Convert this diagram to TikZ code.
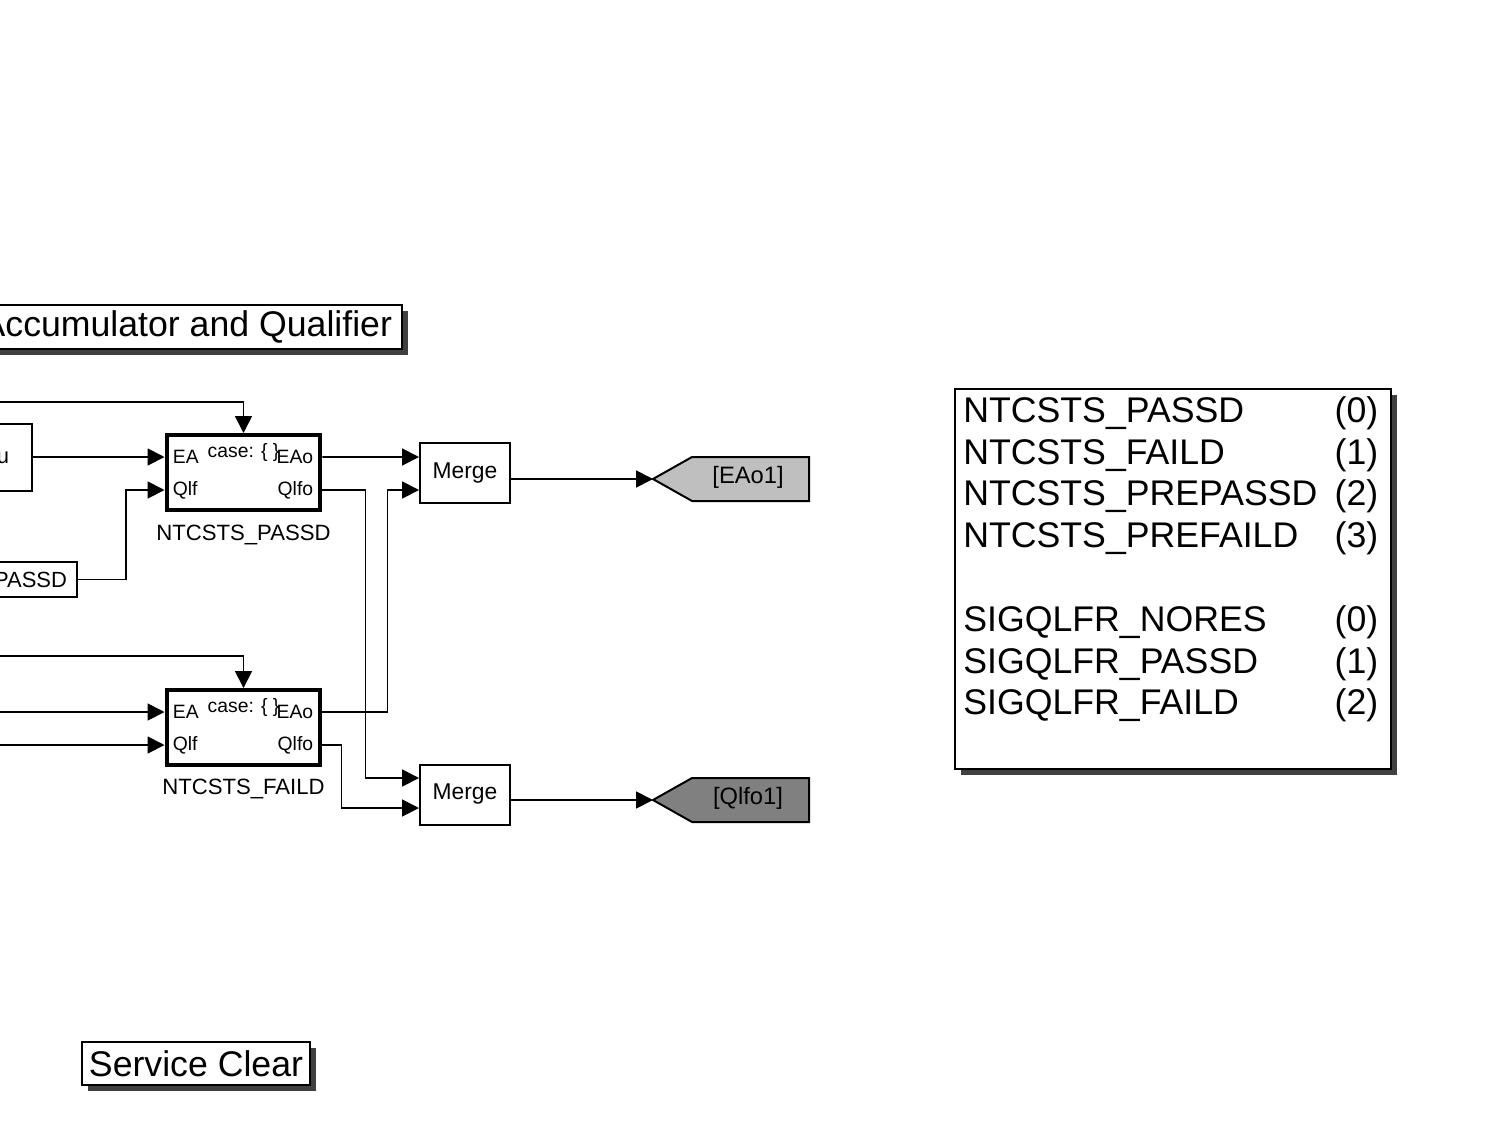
\documentclass[tikz,border=0pt]{standalone}
\usepackage{fontspec}
\setmainfont{Liberation Sans}
\usetikzlibrary{arrows.meta,positioning,shadows}
\begin{document}
\begin{tikzpicture}[x=0.02cm,y=-0.02cm]
	\tikzstyle{sig} = [line width=0.035cm,-{Triangle[length=0.34cm,width=0.34cm]}]
	\tikzstyle{blk} = [rectangle,draw,line width=0.04cm,fill=white,font=\fontsize{12.5}{14}\selectfont]
	\tikzstyle{casebox} = [rectangle,draw,line width=0.08cm,fill=white,minimum width=3.08cm,minimum height=1.5cm]
	\tikzstyle{mergebox} = [blk,minimum width=1.8cm,minimum height=1.2cm,font=\fontsize{13}{15}\selectfont]
	\tikzstyle{port} = [inner sep=0pt,font=\fontsize{11}{13}\selectfont]
	\tikzstyle{caption} = [inner sep=0pt,font=\fontsize{12.6}{14}\selectfont]
	\tikzstyle{tagtext} = [inner sep=0pt,font=\fontsize{13.5}{15}\selectfont]
	\tikzstyle{annot} = [rectangle,draw,line width=0.04cm,fill=white,drop shadow={shadow xshift=0.12cm,shadow yshift=-0.12cm,fill=black!75,opacity=1},font=\fontsize{20.3}{24}\selectfont]
	\tikzstyle{gototag} = [draw,line width=0.04cm]

	\useasboundingbox (0,0) rectangle (1503,1128);
	\clip (0,0) rectangle (1503,1128);

	% annotations
	\node[annot,anchor=north east,minimum height=0.88cm,inner xsep=0.2cm] (title) at (403,304) {Accumulator and Qualifier};
	\node[annot,minimum width=4.56cm,minimum height=0.86cm] (svcclr) at (196,1063.5) {Service Clear};
	\node[annot,anchor=north west,minimum width=8.72cm,minimum height=7.6cm] (enumbox) at (954,388) {};
	\node[anchor=north west,inner sep=0pt,font=\fontsize{20.3}{23.8}\selectfont] (enumtxt) at (963,392.6) {%
		\begin{tabular*}{8.3cm}{@{}l@{\extracolsep{\fill}}r@{}}
			NTCSTS\_PASSD & (0)\\
			NTCSTS\_FAILD & (1)\\
			NTCSTS\_PREPASSD & (2)\\
			NTCSTS\_PREFAILD & (3)\\
			& \\
			SIGQLFR\_NORES & (0)\\
			SIGQLFR\_PASSD & (1)\\
			SIGQLFR\_FAILD & (2)
		\end{tabular*}};

	% case block for NTCSTS_PASSD
	\node[casebox] (caseA) at (243.5,472.5) {};
	\path (caseA.north west) ++(0,24) coordinate (caseA-ea) ++(0,33) coordinate (caseA-qlf);
	\path (caseA.north east) ++(0,24) coordinate (caseA-eao) ++(0,33) coordinate (caseA-qlfo);
	\node[port,right=0.16cm of caseA-ea] (caseA-tea) {EA};
	\node[port,right=0.16cm of caseA-qlf] (caseA-tqlf) {Qlf};
	\node[port,left=0.18cm of caseA-eao] (caseA-teao) {EAo};
	\node[port,left=0.18cm of caseA-qlfo] (caseA-tqlfo) {Qlfo};
	\node[port,anchor=base] (caseA-case) at ([yshift=-0.49cm]caseA.north) {case: \{ \}};
	\node[caption,below=0.25cm of caseA] (caseA-name) {NTCSTS\_PASSD};

	% case block for NTCSTS_FAILD
	\node[casebox] (caseB) at (243.5,727.5) {};
	\path (caseB.north west) ++(0,24) coordinate (caseB-ea) ++(0,33) coordinate (caseB-qlf);
	\path (caseB.north east) ++(0,24) coordinate (caseB-eao) ++(0,33) coordinate (caseB-qlfo);
	\node[port,right=0.16cm of caseB-ea] (caseB-tea) {EA};
	\node[port,right=0.16cm of caseB-qlf] (caseB-tqlf) {Qlf};
	\node[port,left=0.18cm of caseB-eao] (caseB-teao) {EAo};
	\node[port,left=0.18cm of caseB-qlfo] (caseB-tqlfo) {Qlfo};
	\node[port,anchor=base] (caseB-case) at ([yshift=-0.49cm]caseB.north) {case: \{ \}};
	\node[caption,below=0.23cm of caseB] (caseB-name) {NTCSTS\_FAILD};

	% inputs
	\node[blk,anchor=north east,minimum height=1.34cm,inner xsep=0.46cm] (srcU) at (33,423) {u};
	\node[blk,anchor=north east,minimum height=0.7cm,inner xsep=0.2cm] (srcPass) at (78,561) {PASSD};
	\coordinate (trigA) at (-10,402);
	\coordinate (trigB) at (-10,656);
	\coordinate (inBea) at (-10,712);
	\coordinate (inBqlf) at (-10,745);

	\draw[sig] (trigA) -| (caseA.north);
	\draw[sig] (srcU.east |- caseA-ea) -- (caseA-ea);
	\draw[sig] (srcPass.east) -- ++(48,0) |- (caseA-qlf);
	\draw[sig] (trigB) -| (caseB.north);
	\draw[sig] (inBea) -- (caseB-ea);
	\draw[sig] (inBqlf) -- (caseB-qlf);

	% merges
	\node[mergebox] (mergeA) at (465,473) {Merge};
	\path (mergeA.north west) ++(0,15) coordinate (mergeA-in1) ++(0,33) coordinate (mergeA-in2);
	\path (mergeA.north east) ++(0,37) coordinate (mergeA-out);
	\node[mergebox] (mergeB) at (465,794.5) {Merge};
	\path (mergeB.north west) ++(0,14.5) coordinate (mergeB-in1) ++(0,30) coordinate (mergeB-in2);
	\path (mergeB.north east) ++(0,36.5) coordinate (mergeB-out);

	\draw[sig] (caseA-eao) -- (mergeA-in1);
	\draw[sig] (caseA-qlfo) -- ++(43,0) |- (mergeB-in1);
	\draw[sig] (caseB-eao) -- ++(65,0) |- (mergeA-in2);
	\draw[sig] (caseB-qlfo) -- ++(19,0) |- (mergeB-in2);

	% goto tags
	\draw[gototag,fill=black!25] (653,479) coordinate (gotoA-tip) -- (692,457) -- (809,457) -- (809,501) -- (692,501) -- cycle;
	\node[tagtext] (gotoA) at (748,477) {[EAo1]};
	\draw[gototag,fill=black!50] (653,800) coordinate (gotoB-tip) -- (692,778) -- (809,778) -- (809,822) -- (692,822) -- cycle;
	\node[tagtext] (gotoB) at (748,798) {[Qlfo1]};

	\draw[sig] (mergeA-out) -- (gotoA-tip);
	\draw[sig] (mergeB-out) -- (gotoB-tip);
\end{tikzpicture}
\end{document}
